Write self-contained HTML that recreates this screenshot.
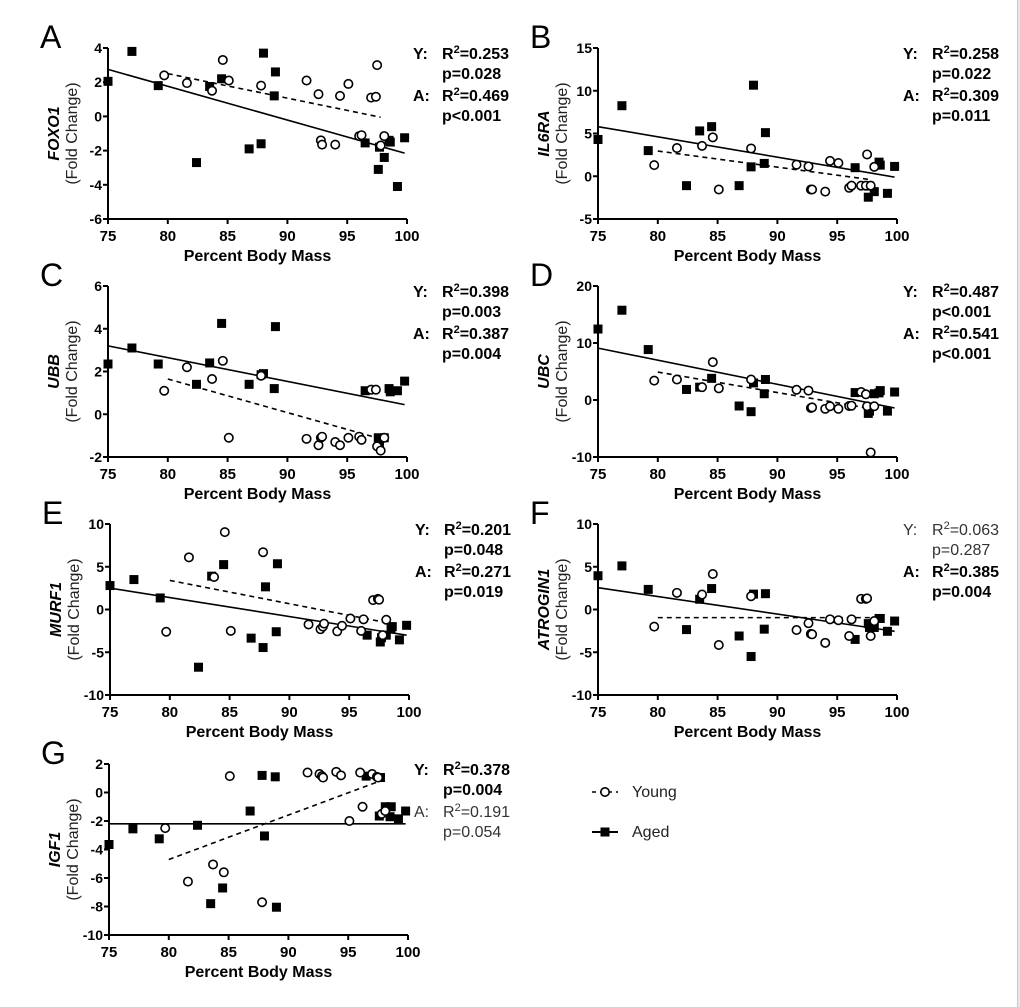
<!DOCTYPE html>
<html><head><meta charset="utf-8"><style>
body{margin:0;background:#fff;width:1020px;height:1007px;overflow:hidden}
svg{display:block;font-family:"Liberation Sans",Arial,sans-serif}
</style></head><body>
<svg id="chart" width="1020" height="1007" viewBox="0 0 1020 1007"></svg>
<script>
const xYoung=[79.7,81.6,83.7,84.6,85.1,87.8,91.6,92.6,92.8,92.9,94.0,94.4,95.1,96.0,96.2,97.0,97.4,97.5,97.8,98.1];
const xAged=[75,77,79.2,82.4,83.5,84.5,86.8,87.8,88.0,88.9,89.0,96.5,97.6,97.7,98.1,98.5,98.6,99.2,99.8];
const yYoungA=[2.4,1.95,1.5,3.3,2.1,1.8,2.1,1.3,-1.4,-1.65,-1.65,1.2,1.9,-1.15,-1.1,1.1,1.15,3.0,-1.7,-1.15];
const yAgedA=[2.05,3.8,1.8,-2.7,1.75,2.2,-1.9,-1.6,3.7,1.2,2.6,-1.55,-3.1,-1.8,-2.4,-1.4,-1.5,-4.1,-1.25];
const yYoungB=[1.3,3.3,3.55,4.55,-1.55,3.25,1.35,1.15,-1.55,-1.55,-1.8,1.8,1.55,-1.35,-1.1,-1.1,-1.1,2.55,-1.1,1.1];
const yAgedB=[4.3,8.25,3.0,-1.1,5.3,5.8,-1.1,1.1,10.65,1.5,5.1,1.0,-2.45,-1.15,-1.8,1.65,1.3,-2.0,1.15];
const yYoungC=[1.1,2.2,1.65,2.5,-1.1,1.8,-1.15,-1.45,-1.1,-1.05,-1.3,-1.45,-1.1,-1.05,-1.2,1.15,1.15,-1.5,-1.7,-1.1];
const yAgedC=[2.35,3.1,2.35,1.4,2.4,4.25,1.4,1.85,1.9,1.2,4.1,1.1,-1.1,-1.4,-1.1,1.2,1.05,1.1,1.55];
const yYoungD=[3.4,3.6,2.25,6.65,2.05,3.6,1.8,1.65,-1.4,-1.3,-1.55,-1.1,-1.55,-1.05,-1.0,1.4,1.0,-1.1,-9.2,-1.1];
const yAgedD=[12.45,15.75,8.85,1.85,2.25,3.8,-1.05,-2.05,3.0,1.1,3.6,1.3,-2.35,-1.95,1.1,1.25,1.65,-1.95,1.4];
const yYoungE=[-2.6,6.1,3.8,9.05,-2.5,6.7,-1.75,-2.3,-2.0,-1.65,-2.55,-1.9,-1.05,-2.5,-1.15,1.1,1.25,1.15,-3.0,-1.2];
const yAgedE=[2.8,3.5,1.35,-6.75,3.9,5.25,-3.35,-4.45,2.65,-2.6,5.35,-3.0,-3.8,-3.3,-3.0,-2.3,-2.0,-3.55,-1.85];
const yYoungF=[-2.0,1.95,1.75,4.15,-4.15,1.55,-2.4,-1.6,-2.85,-2.9,-3.9,-1.15,-1.25,-3.1,-1.15,1.25,1.25,1.3,-3.1,-1.35];
const yAgedF=[3.95,5.1,2.35,-2.35,1.2,2.45,-3.1,-5.5,1.8,-2.3,1.85,-3.5,-1.65,-2.1,-2.1,-1.05,-1.05,-2.55,-1.35];
const yYoungG=[-2.5,-6.25,-5.05,-5.6,1.15,-7.7,1.4,1.3,1.15,1.05,1.45,1.2,-2.0,1.4,-1.0,1.3,1.1,1.05,-1.5,-1.3];
const yAgedG=[-3.65,-2.55,-3.25,-2.3,-7.8,-6.7,-1.3,1.2,-3.05,1.1,-8.05,1.15,-1.65,1.05,-1.0,-1.7,-1.0,-1.85,-1.3];
// fit lines: [x start, y start, x end, y end]
const fitYoungA=[80,2.5,97.8,-0.05], fitAgedA=[75,2.75,99.8,-2.15];
const fitYoungB=[80,2.95,97.8,-0.4], fitAgedB=[75,5.8,99.8,-0.1];
const fitYoungC=[80,1.65,97.8,-1.15], fitAgedC=[75,3.2,99.8,0.45];
const fitYoungD=[80,4.9,97.8,-1.5], fitAgedD=[75,9.1,99.8,-1.4];
const fitYoungE=[80,3.4,97.8,-1.45], fitAgedE=[75,2.5,99.8,-3.0];
const fitYoungF=[80,-0.95,97.8,-0.95], fitAgedF=[75,2.55,99.8,-2.55];
const fitYoungG=[80,-4.7,97.8,0.85], fitAgedG=[75,-2.2,99.8,-2.2];
const xTicks=[75,80,85,90,95,100];

const NS='http://www.w3.org/2000/svg';
const svg=document.getElementById('chart');
function mk(tag,attrs,parent,text){const e=document.createElementNS(NS,tag);for(const k in attrs)e.setAttribute(k,attrs[k]);if(text!==undefined)e.textContent=text;(parent||svg).appendChild(e);return e;}

const edge=mk('rect',{x:1017,y:0,width:3,height:1007,fill:'#e6e6e6'});


mk('line',{x1:1017.5,x2:1017.5,y1:0,y2:1007,stroke:'#c8c8c8','stroke-width':1});

const panels=[
 {id:'a',letter:'A',gene:'FOXO1',x0:108,top:48,ymin:-6,ymax:4,step:2,yy:yYoungA,ya:yAgedA,fy:fitYoungA,fa:fitAgedA,stats:[['Y:','0.253','p=0.028',true],['A:','0.469','p<0.001',true]]},
 {id:'b',letter:'B',gene:'IL6RA',x0:598,top:48,ymin:-5,ymax:15,step:5,yy:yYoungB,ya:yAgedB,fy:fitYoungB,fa:fitAgedB,stats:[['Y:','0.258','p=0.022',true],['A:','0.309','p=0.011',true]]},
 {id:'c',letter:'C',gene:'UBB',x0:108,top:286,ymin:-2,ymax:6,step:2,yy:yYoungC,ya:yAgedC,fy:fitYoungC,fa:fitAgedC,stats:[['Y:','0.398','p=0.003',true],['A:','0.387','p=0.004',true]]},
 {id:'d',letter:'D',gene:'UBC',x0:598,top:286,ymin:-10,ymax:20,step:10,yy:yYoungD,ya:yAgedD,fy:fitYoungD,fa:fitAgedD,stats:[['Y:','0.487','p<0.001',true],['A:','0.541','p<0.001',true]]},
 {id:'e',letter:'E',gene:'MURF1',x0:110,top:524,ymin:-10,ymax:10,step:5,yy:yYoungE,ya:yAgedE,fy:fitYoungE,fa:fitAgedE,stats:[['Y:','0.201','p=0.048',true],['A:','0.271','p=0.019',true]]},
 {id:'f',letter:'F',gene:'ATROGIN1',x0:598,top:524,ymin:-10,ymax:10,step:5,yy:yYoungF,ya:yAgedF,fy:fitYoungF,fa:fitAgedF,stats:[['Y:','0.063','p=0.287',false],['A:','0.385','p=0.004',true]]},
 {id:'g',letter:'G',gene:'IGF1',x0:109,top:764,ymin:-10,ymax:2,step:2,yy:yYoungG,ya:yAgedG,fy:fitYoungG,fa:fitAgedG,stats:[['Y:','0.378','p=0.004',true],['A:','0.191','p=0.054',false]]}
];
const W=299,H=171;
panels.forEach(p=>{
 const g=mk('g',{});
 
 
 const sx=v=>p.x0+(v-75)/25*W;
 const sy=v=>p.top+(p.ymax-v)/(p.ymax-p.ymin)*H;
 const x1=p.x0+W, yb=p.top+H;
 const L=mk('text',{x:p.x0-68,y:p.top,'font-size':32},g,p.letter);
 
 const ax=mk('path',{d:`M${p.x0} ${p.top}V${yb}H${x1}`,stroke:'#000','stroke-width':2,fill:'none'},g);
 
 for(let v=p.ymin;v<=p.ymax+1e-9;v+=p.step){
  mk('line',{x1:p.x0-5,x2:p.x0,y1:sy(v),y2:sy(v),stroke:'#000','stroke-width':2},g);
  const t=mk('text',{x:p.x0-6,y:sy(v)+5,'font-size':14,'font-weight':'bold','text-anchor':'end'},g,String(v));
  
 }
 xTicks.forEach(v=>{
  mk('line',{x1:sx(v),x2:sx(v),y1:yb,y2:yb+5,stroke:'#000','stroke-width':2},g);
  const t=mk('text',{x:sx(v),y:yb+22,'font-size':15,'font-weight':'bold','text-anchor':'middle'},g,String(v));
  
 });
 const xt=mk('text',{x:p.x0+W/2,y:yb+42,'font-size':16,'font-weight':'bold','text-anchor':'middle'},g,'Percent Body Mass');
 
 const cy=p.top+H/2;
 const gt=mk('text',{transform:`translate(${p.x0-49},${cy}) rotate(-90)`,'font-size':16,'font-weight':'bold','font-style':'italic','text-anchor':'middle'},g,p.gene);
 
 const ft=mk('text',{transform:`translate(${p.x0-31},${cy}) rotate(-90)`,'font-size':16,'text-anchor':'middle',fill:'#222'},g,'(Fold Change)');
 
 const fl=mk('line',{x1:sx(p.fy[0]),y1:sy(p.fy[1]),x2:sx(p.fy[2]),y2:sy(p.fy[3]),stroke:'#000','stroke-width':1.6,'stroke-dasharray':'5,4'},g);
 
 const al=mk('line',{x1:sx(p.fa[0]),y1:sy(p.fa[1]),x2:sx(p.fa[2]),y2:sy(p.fa[3]),stroke:'#000','stroke-width':1.6},g);
 
 xAged.forEach((x,i)=>{
  const r=mk('rect',{x:sx(x)-4.5,y:sy(p.ya[i])-4.5,width:9,height:9,fill:'#000'},g);
  
  
 });
 xYoung.forEach((x,i)=>{
  const c=mk('circle',{cx:sx(x),cy:sy(p.yy[i]),r:4.2,fill:'#fff',stroke:'#000','stroke-width':1.6},g);
  
  
 });
 const sxp=x1+6, rx=x1+35;
 p.stats.forEach((s,k)=>{
  const base=p.top+11+k*42;
  const fw=s[3]?'bold':'normal', col=s[3]?'#000':'#333';
  const a=mk('text',{x:sxp,y:base,'font-size':16,'font-weight':fw,fill:col},g,s[0]);
  
  const r=mk('text',{x:rx,y:base,'font-size':16,'font-weight':fw,fill:col},g);
  
  mk('tspan',{},r,'R');mk('tspan',{dy:-6,'font-size':11},r,'2');mk('tspan',{dy:6},r,'='+s[1]);
  const pv=mk('text',{x:rx,y:base+20,'font-size':16,'font-weight':fw,fill:col},g,s[2]);
  
 });
});
const lg=mk('g',{});

const ly=mk('g',{},lg);
mk('line',{x1:592,x2:618,y1:792,y2:792,stroke:'#000','stroke-width':1.6,'stroke-dasharray':'4,4'},ly);
mk('circle',{cx:605,cy:792,r:4.2,fill:'#fff',stroke:'#000','stroke-width':1.6},ly);
mk('text',{x:632,y:797,'font-size':16,fill:'#222'},ly,'Young');
const la=mk('g',{},lg);
mk('line',{x1:592,x2:618,y1:832,y2:832,stroke:'#000','stroke-width':2},la);
mk('rect',{x:600.5,y:827.5,width:9,height:9,fill:'#000'},la);
mk('text',{x:632,y:837,'font-size':16,fill:'#222'},la,'Aged');
</script>
</body></html>
